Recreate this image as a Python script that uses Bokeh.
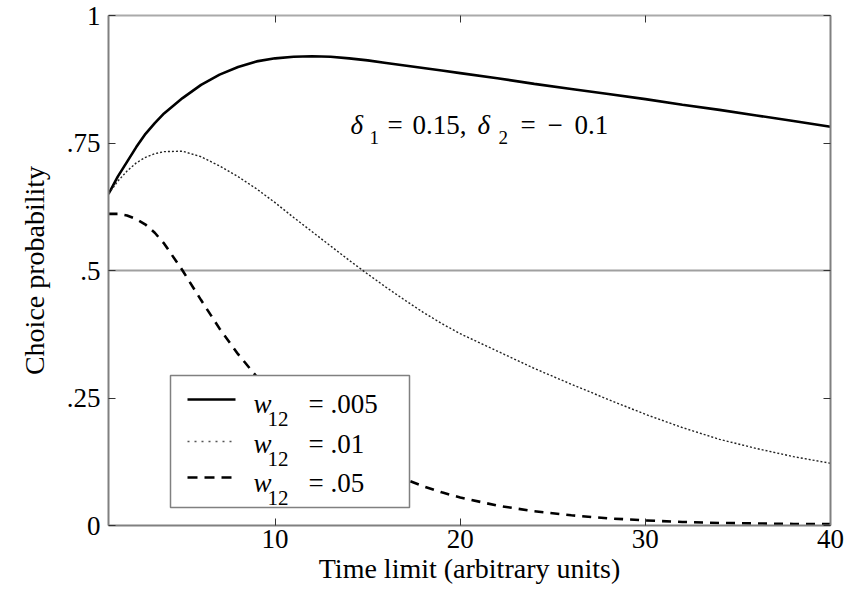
from bokeh.plotting import figure
from bokeh.models import LinearAxis, Span, FixedTicker, Range1d
from bokeh.core.properties import value
from bokeh.embed import file_html
from bokeh.resources import INLINE

# ---------------- data ----------------
time_limit = [1, 1.5, 2, 2.5, 3, 3.5, 4, 5, 6, 7, 8, 9, 10, 11, 12, 13, 14, 15, 16, 17, 18,
              19, 20, 22, 24, 26, 28, 30, 32, 34, 36, 38, 40]
p_w005 = [0.650, 0.684, 0.713, 0.742, 0.768, 0.789, 0.808, 0.838, 0.864, 0.884, 0.899,
          0.910, 0.916, 0.919, 0.920, 0.919, 0.916, 0.912, 0.907, 0.902, 0.897, 0.892,
          0.887, 0.877, 0.866, 0.856, 0.846, 0.836, 0.825, 0.815, 0.804, 0.793, 0.782]
p_w01 = [0.650, 0.675, 0.695, 0.711, 0.722, 0.729, 0.733, 0.734, 0.723, 0.705, 0.684,
         0.660, 0.633, 0.604, 0.576, 0.548, 0.520, 0.493, 0.467, 0.442, 0.418, 0.396,
         0.376, 0.342, 0.308, 0.277, 0.247, 0.218, 0.192, 0.169, 0.151, 0.135, 0.122]
p_w05 = [0.611, 0.611, 0.608, 0.601, 0.590, 0.574, 0.553, 0.500, 0.442, 0.386, 0.336,
         0.292, 0.255, 0.222, 0.193, 0.166, 0.143, 0.123, 0.106, 0.091, 0.077, 0.065,
         0.055, 0.039, 0.028, 0.020, 0.014, 0.010, 0.007, 0.005, 0.004, 0.003, 0.003]
legend_values = [".005", ".01", ".05"]
chance_level = 0.5
x_ticks = [10, 20, 30, 40]
y_ticks = [0, 0.25, 0.5, 0.75, 1]
y_tick_labels = ["0", ".25", ".5", ".75", "1"]
x_title = "Time limit (arbitrary units)"
y_title = "Choice probability"

# ---------------- layout ----------------
W, H = 855, 592
FL, FR, FT, FB = 108, 830, 15, 525          # plot frame, canvas px
X0, X1, Y0, Y1 = 1, 40, 0, 1

def X(px):
    return X0 + (px - FL) / (FR - FL) * (X1 - X0)

def Y(py):
    return Y0 + (FB - py) / (FB - FT) * (Y1 - Y0)

SERIF = "Liberation Serif"
AXIS_COL = "#808080"

p = figure(width=W, height=H, x_range=Range1d(X0, X1), y_range=Range1d(Y0, Y1),
           output_backend="svg", toolbar_location=None,
           min_border_left=FL, min_border_right=W - FR, min_border_top=FT,
           min_border_bottom=H - FB)
p.grid.visible = False
p.outline_line_color = None
p.background_fill_color = "white"
p.border_fill_color = "white"

def style_axis(ax, show_labels):
    ax.major_tick_in = 7
    ax.major_tick_out = 0
    ax.minor_tick_in = 0
    ax.minor_tick_out = 0
    ax.major_tick_line_color = "#333333"
    ax.major_tick_line_width = 1
    ax.axis_line_color = AXIS_COL
    ax.axis_line_width = 2
    if show_labels:
        ax.major_label_text_font = SERIF
        ax.major_label_text_font_size = "27px"
        ax.major_label_text_color = "black"
        ax.axis_label_text_font = SERIF
        ax.axis_label_text_font_size = "28px"
        ax.axis_label_text_font_style = "normal"
        ax.axis_label_text_color = "black"
    else:
        ax.major_label_text_font_size = "0px"
        ax.major_label_standoff = 0

xa = p.xaxis[0]
xa.ticker = FixedTicker(ticks=x_ticks)
style_axis(xa, True)
xa.major_label_standoff = 4
xa.axis_label = x_title
xa.axis_label_standoff = 2

ya = p.yaxis[0]
ya.ticker = FixedTicker(ticks=y_ticks)
ya.major_label_overrides = {t: s for t, s in zip(y_ticks, y_tick_labels)}
style_axis(ya, True)
ya.major_label_standoff = 8
ya.axis_label = y_title
ya.axis_label_standoff = 14

top = LinearAxis(ticker=FixedTicker(ticks=x_ticks))
style_axis(top, False)
top.axis_line_color = "#aaaaaa"
p.add_layout(top, "above")
right = LinearAxis(ticker=FixedTicker(ticks=y_ticks))
style_axis(right, False)
p.add_layout(right, "right")

# chance line
p.add_layout(Span(location=chance_level, dimension="width", line_color="#a0a0a0",
                  line_width=2, level="underlay"))

# curves
p.line(time_limit, p_w005, line_color="black", line_width=2.6)
p.line(time_limit, p_w01, line_color="#222222", line_width=1.4, line_dash="2 2")
p.line(time_limit, p_w05, line_color="black", line_width=2.6, line_dash="9 7")

# ---- legend (drawn manually, white box over the curves) ----
p.quad(left=[X(170)], right=[X(409)], top=[Y(375)], bottom=[Y(507)],
       fill_color="white", line_color=AXIS_COL, line_width=1.5)
sample_y = [399, 441, 477]
p.line([X(187), X(235)], [Y(sample_y[0])] * 2, line_color="black", line_width=2.6)
p.line([X(187), X(235)], [Y(sample_y[1])] * 2, line_color="#555555", line_width=1.4,
       line_dash="2 5")
p.line([X(187), X(235)], [Y(sample_y[2])] * 2, line_color="black", line_width=2.6,
       line_dash="10 7")
baselines = [403, 443, 482]
p.text(x=[X(253)] * 3, y=[Y(b) for b in baselines], text=["w"] * 3,
       text_font=value(SERIF), text_font_style="italic", text_font_size=value("27px"),
       text_baseline="alphabetic", text_color="black")
p.text(x=[X(267)] * 3, y=[Y(b + 15) for b in baselines], text=["12"] * 3,
       text_font=value(SERIF), text_font_size=value("21px"),
       text_baseline="alphabetic", text_color="black")
p.text(x=[X(308)] * 3, y=[Y(b) for b in baselines], text=["= " + v for v in legend_values],
       text_font=value(SERIF), text_font_size=value("27px"),
       text_baseline="alphabetic", text_color="black")

# ---- parameter annotation ----
ann_base = 124
main_txt = ["δ", "=", "0.15,", "δ", "=", "−", "0.1"]
main_px = [350, 387, 412, 477, 520, 547, 574]
main_sty = ["italic", "normal", "normal", "italic", "normal", "normal", "normal"]
for t, px, st in zip(main_txt, main_px, main_sty):
    p.text(x=[X(px)], y=[Y(ann_base)], text=[t], text_font=value(SERIF),
           text_font_style=st, text_font_size=value("27px"), text_baseline="alphabetic",
           text_color="black")
p.text(x=[X(369), X(498)], y=[Y(ann_base + 13)] * 2, text=["1", "2"],
       text_font=value(SERIF), text_font_size=value("19px"), text_baseline="alphabetic",
       text_color="black")

open("out.html", "w").write(file_html(p, INLINE))
